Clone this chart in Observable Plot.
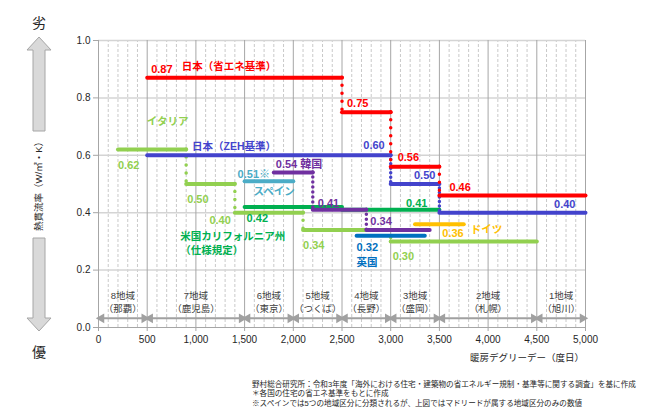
<!DOCTYPE html>
<html><head><meta charset="utf-8">
<script src="https://cdn.jsdelivr.net/npm/d3@7"></script>
<script src="https://cdn.jsdelivr.net/npm/@observablehq/plot@0.6"></script>
<style>body{margin:0;background:#fff}#chart svg{display:block}</style>
</head><body><div id="chart"></div>
<script>
// ---- data (heating degree-days vs. U-value) ----
const japanEnergyBounds = [500, 2500, 3000, 3500, 5000];
const japanEnergyU = [0.87, 0.75, 0.56, 0.46];
const japanZehBounds = [500, 3000, 3500, 5000];
const japanZehU = [0.60, 0.50, 0.40];
const italyBounds = [200, 900, 1400, 2100, 3000, 4500];
const italyU = [0.62, 0.50, 0.40, 0.34, 0.30];
const californiaBounds = [1500, 2500, 3500];
const californiaU = [0.42, 0.41];
const koreaBounds = [1800, 2200, 2750, 3400];
const koreaU = [0.54, 0.41, 0.34];
const spainBounds = [1500, 2000];
const spainU = [0.51];
const ukBounds = [2650, 3350];
const ukU = [0.32];
const germanyBounds = [3250, 3750];
const germanyU = [0.36];

const regionBounds = [0, 500, 1500, 2000, 2500, 3000, 3500, 4500, 5000];
const regionNames = ["8地域", "7地域", "6地域", "5地域", "4地域", "3地域", "2地域", "1地域"];
const regionCities = ["（那覇）", "（鹿児島）", "（東京）", "（つくば）", "（長野）", "（盛岡）", "（札幌）", "（旭川）"];

const xTicks = [0, 500, 1000, 1500, 2000, 2500, 3000, 3500, 4000, 4500, 5000];
const yTicks = [0, 0.2, 0.4, 0.6, 0.8, 1.0];

const footnotes = [
  "野村総合研究所：令和3年度「海外における住宅・建築物の省エネルギー規制・基準等に関する調査」を基に作成",
  "＊各国の住宅の省エネ基準をもとに作成",
  "※スペインでは5つの地域区分に分類されるが、上図ではマドリードが属する地域区分のみの数値"
];

// ---- styling / assembly ----
const FONT = "'Liberation Sans', Arial, 'Noto Sans CJK JP', sans-serif";
const series = [
  {key: "italy", bounds: italyBounds, u: italyU, color: "#92D050", gap: 8},
  {key: "california", bounds: californiaBounds, u: californiaU, color: "#00B050", gap: 0},
  {key: "spain", bounds: spainBounds, u: spainU, color: "#4BACC6", gap: 0},
  {key: "uk", bounds: ukBounds, u: ukU, color: "#0070C0", gap: 0},
  {key: "germany", bounds: germanyBounds, u: germanyU, color: "#FFC000", gap: 0},
  {key: "korea", bounds: koreaBounds, u: koreaU, color: "#7030A0", gap: 5},
  {key: "japanZeh", bounds: japanZehBounds, u: japanZehU, color: "#4343CC", gap: 4.5},
  {key: "japanEnergy", bounds: japanEnergyBounds, u: japanEnergyU, color: "#FF0000", gap: 8}
];
const byKey = Object.fromEntries(series.map(s => [s.key, s]));
const segs = s => s.u.map((u, i) => ({x1: s.bounds[i], x2: s.bounds[i + 1], u}));
const conns = s => s.u.slice(1).map((u, i) => ({x: s.bounds[i + 1], a: s.u[i], b: u}));

// value labels: [series, index, end, textAnchor, dx, dy, suffix]
const valueLabelSpec = [
  ["japanEnergy", 0, "x1", "start", 4, -8, ""],
  ["japanEnergy", 1, "x1", "start", 5, -9, ""],
  ["japanEnergy", 2, "x1", "start", 7, -9, ""],
  ["japanEnergy", 3, "x1", "start", 10, -8, ""],
  ["japanZeh", 0, "x2", "end", -6, -10, ""],
  ["japanZeh", 1, "x2", "end", -4, -9, ""],
  ["japanZeh", 2, "x2", "end", -10, -8, ""],
  ["italy", 0, "x1", "start", 0, 16, ""],
  ["italy", 1, "x1", "start", 1, 15, ""],
  ["italy", 2, "x1", "end", -4, 8, ""],
  ["italy", 3, "x1", "start", 0, 16, ""],
  ["italy", 4, "x1", "start", 2, 15, ""],
  ["california", 0, "x1", "start", 2, 12, ""],
  ["california", 1, "x2", "end", -12, -6, ""],
  ["korea", 0, "x1", "start", 2, -8, " 韓国"],
  ["korea", 1, "x1", "start", 5, -6, ""],
  ["korea", 2, "x1", "start", 4, -8, ""],
  ["spain", 0, "x1", "start", -7, -7, "※"],
  ["uk", 0, "x1", "start", 0, 12, ""],
  ["germany", 0, "x2", "end", 0, 9, ""]
];
const valueLabels = valueLabelSpec.map(([k, i, end, anchor, dx, dy, suffix]) => {
  const s = byKey[k];
  return {x: s.bounds[end === "x1" ? i : i + 1], y: s.u[i], text: s.u[i].toFixed(2) + suffix,
          color: s.color, anchor, dx, dy};
});
const nameLabels = [
  {k: "japanEnergy", text: "日本（省エネ基準）", x: 1340, y: 0.87, dx: 0, dy: -11, anchor: "middle"},
  {k: "japanZeh", text: "日本（ZEH基準）", x: 960, y: 0.60, dx: 0, dy: -9, anchor: "start"},
  {k: "italy", text: "イタリア", x: 710, y: 0.62, dx: 0, dy: -28, anchor: "middle"},
  {k: "california", text: "米国カリフォルニア州", x: 840, y: 0.42, dx: 0, dy: 30, anchor: "start"},
  {k: "california", text: "（仕様規定）", x: 840, y: 0.42, dx: 0, dy: 44, anchor: "start"},
  {k: "spain", text: "スペイン", x: 1500, y: 0.51, dx: 9, dy: 10, anchor: "start"},
  {k: "uk", text: "英国", x: 2650, y: 0.32, dx: 0, dy: 27, anchor: "start"},
  {k: "germany", text: "ドイツ", x: 3750, y: 0.36, dx: 7, dy: 5, anchor: "start"}
].map(d => ({...d, color: byKey[d.k].color}));

const regions = regionNames.map((n, i) => ({name: n, city: regionCities[i], a: regionBounds[i], b: regionBounds[i + 1]}));
const RY = 0.032;

const marks = [
  Plot.ruleX(d3.range(0, 5001, 100).filter(d => d % 500 !== 0), {y1: 0, y2: 1, stroke: "#C9C9C9", strokeDasharray: "3,2"}),
  Plot.ruleY(yTicks.filter(d => d > 0), {stroke: "#D4D4D4", strokeWidth: 1.5}),
  Plot.ruleX(xTicks, {y1: 0, y2: 1, stroke: "#A6A6A6"}),
  Plot.ruleY([0], {stroke: "#A6A6A6", strokeWidth: 1.2}),
  Plot.axisX({ticks: xTicks, tickFormat: d3.format(","), tickSize: 4, tickPadding: 4, stroke: "#A6A6A6", fill: "#262626", label: null, fontSize: 10}),
  Plot.axisY({ticks: yTicks, tickFormat: d3.format(".1f"), tickSize: 5, tickPadding: 3, stroke: "#A6A6A6", fill: "#262626", label: null, fontSize: 10}),
  // region arrows
  Plot.link(regions, {x1: d => d.a + 32, x2: d => d.b - 32, y1: RY, y2: RY, stroke: "#A0A0A0", strokeWidth: 2}),
  Plot.dot(regions, {x: d => d.a + 30, y: RY, symbol: "triangle", rotate: -90, r: 3.6, fill: "#A0A0A0", stroke: null}),
  Plot.dot(regions, {x: d => d.b - 30, y: RY, symbol: "triangle", rotate: 90, r: 3.6, fill: "#A0A0A0", stroke: null}),
  Plot.text(regions, {x: d => (d.a + d.b) / 2, y: RY, dy: -22, text: "name", fill: "#404040", fontSize: 9.5}),
  Plot.text(regions, {x: d => (d.a + d.b) / 2, y: RY, dy: -9, text: "city", fill: "#404040", fontSize: 9.5})
];
for (const s of series) {
  if (s.gap) marks.push(Plot.ruleX(conns(s), {x: "x", y1: "a", y2: "b", stroke: s.color, strokeWidth: 3.5,
    strokeDasharray: `0,${s.gap}`, strokeLinecap: "round"}));
  marks.push(Plot.link(segs(s), {x1: "x1", x2: "x2", y1: "u", y2: "u", stroke: s.color, strokeWidth: 4, strokeLinecap: "round"}));
}
for (const d of valueLabels) {
  marks.push(Plot.text([d], {x: "x", y: "y", text: "text", fill: d.color, textAnchor: d.anchor, dx: d.dx, dy: d.dy,
    fontSize: 11, fontWeight: "bold"}));
}
for (const d of nameLabels) {
  marks.push(Plot.text([d], {x: "x", y: "y", text: "text", fill: d.color, textAnchor: d.anchor, dx: d.dx, dy: d.dy,
    fontSize: 10.5, fontWeight: "bold"}));
}

const svgNode = Plot.plot({
  width: 662, height: 408,
  marginLeft: 98, marginRight: 77, marginTop: 40, marginBottom: 81,
  x: {domain: [0, 5000]},
  y: {domain: [0, 1]},
  style: {fontFamily: FONT, background: "#fff", color: "#262626"},
  marks
});
document.getElementById("chart").append(svgNode);

// ---- decorations: side arrows, labels, footnotes ----
const svg = d3.select(svgNode);
const g = svg.append("g").attr("font-family", FONT).attr("text-anchor", "start");
g.append("polygon")
  .attr("points", "39,37 51,50 45,50 45,131 33,131 33,50 27,50")
  .attr("fill", "#D9D9D9").attr("stroke", "#A6A6A6").attr("stroke-width", 1);
g.append("polygon")
  .attr("points", "33,238 45,238 45,318 51,318 39,331 27,318 33,318")
  .attr("fill", "#D9D9D9").attr("stroke", "#A6A6A6").attr("stroke-width", 1);
g.append("text").attr("x", 39).attr("y", 23).attr("dy", "0.35em").attr("text-anchor", "middle")
  .attr("font-size", 14).attr("fill", "#262626").text("劣");
g.append("text").attr("x", 39).attr("y", 352).attr("dy", "0.35em").attr("text-anchor", "middle")
  .attr("font-size", 14).attr("fill", "#262626").text("優");
g.append("text").attr("transform", "translate(39,184) rotate(-90)").attr("dy", "0.35em")
  .attr("text-anchor", "middle").attr("font-size", 9.5).attr("fill", "#262626").text("熱貫流率（W/㎡・K）");
g.append("text").attr("x", 584).attr("y", 358).attr("dy", "0.35em").attr("text-anchor", "end")
  .attr("font-size", 9.5).attr("fill", "#262626").text("暖房デグリーデー（度日）");
footnotes.forEach((t, i) => {
  g.append("text").attr("x", 252).attr("y", 384 + i * 9.5).attr("dy", "0.35em").attr("text-anchor", "start")
    .attr("font-size", 7.6).attr("fill", "#262626").text(t);
});
</script>
</body></html>
